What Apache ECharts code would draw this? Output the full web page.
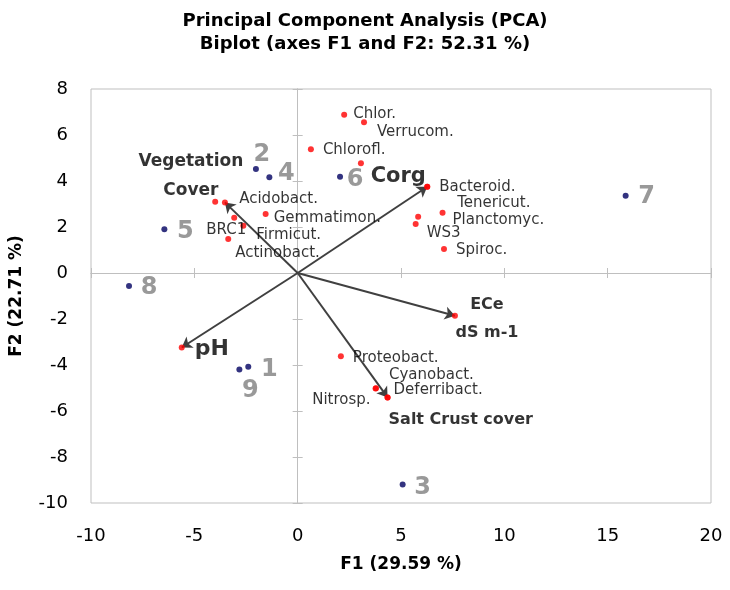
<!DOCTYPE html>
<html><head><meta charset="utf-8">
<script src="https://cdn.jsdelivr.net/npm/echarts@6/dist/echarts.min.js"></script>
<style>html,body{margin:0;padding:0;background:#fff}#c{width:730px;height:590px}</style>
</head><body><div id="c"></div>
<script>
// ---- data ----
const titleLines = ['Principal Component Analysis (PCA)', 'Biplot (axes F1 and F2: 52.31 %)'];
const xTitle = 'F1 (29.59 %)';
const yTitle = 'F2 (22.71 %)';
const xTicks = { min: -10, max: 20, step: 5 };
const yTicks = { min: -10, max: 8, step: 2 };

const obsNames = ['1', '2', '3', '4', '5', '6', '7', '8', '9'];
const obsF1 = [-2.39, -2.02, 5.08, -1.37, -6.45, 2.05, 15.87, -8.16, -2.82];
const obsF2 = [-4.08, 4.52, -9.20, 4.16, 1.90, 4.19, 3.36, -0.56, -4.20];

const taxaNames = ['Chlor.', 'Verrucom.', 'Chlorofl.', '', 'Bacteroid.', 'Tenericut.', 'Planctomyc.', 'WS3', 'Spiroc.',
  'Acidobact.', 'BRC1', 'Firmicut.', 'Actinobact.', 'Gemmatimon.', 'Proteobact.', 'Cyanobact.', 'Deferribact.', 'Nitrosp.'];
const taxaF1 = [2.25, 3.21, 0.64, 3.06, 6.27, 5.83, 7.01, 5.71, 7.08,
  -3.99, -3.07, -2.63, -3.36, -1.55, 2.09, 3.79, 4.35, 3.77];
const taxaF2 = [6.88, 6.55, 5.38, 4.77, 3.75, 2.45, 2.62, 2.13, 1.04,
  3.10, 2.40, 2.05, 1.48, 2.56, -3.62, -5.01, -5.41, -5.02];

const envNames = ['Vegetation\nCover', 'Corg', 'ECe\ndS m-1', 'Salt Crust cover', 'pH'];
const envF1 = [-3.52, 6.27, 7.61, 4.35, -5.61];
const envF2 = [3.07, 3.75, -1.86, -5.41, -3.24];

// ---- label placement (pixel offsets from the point, styles) ----
const obsLabelOffset = {
  '1': [21, 3], '2': [6, -14], '3': [20, 3], '4': [17, -4], '5': [21, 2],
  '6': [15, 3], '7': [21, 1], '8': [20, 2], '9': [11, 21]
};
const taxaLabelOffset = {
  'Chlor.': [9, -1], 'Verrucom.': [13, 10], 'Chlorofl.': [12, 1], 'Bacteroid.': [12, 0],
  'Tenericut.': [39, -14], 'Planctomyc.': [10, 7], 'WS3': [11, 9], 'Spiroc.': [12, 1],
  'Acidobact.': [24, -3], 'BRC1': [-28, 12], 'Firmicut.': [13, 9], 'Actinobact.': [7, 14],
  'Gemmatimon.': [8, 4], 'Proteobact.': [12, 2], 'Cyanobact.': [13, -13], 'Deferribact.': [6, -7],
  'Nitrosp.': [-5, 12]
};
const taxaAlignRight = { 'Nitrosp.': true };
const envLabelStyle = {
  'Vegetation\nCover': { off: [-34, -26], align: 'center', size: 17, lh: 29 },
  'Corg': { off: [-29, -10], align: 'center', size: 21, lh: 24 },
  'ECe\ndS m-1': { off: [32, 3], align: 'center', size: 16, lh: 28 },
  'Salt Crust cover': { off: [1, 22], align: 'left', size: 16, lh: 20 },
  'pH': { off: [13, 2], align: 'left', size: 22, lh: 24 }
};

const FONT = 'DejaVu Sans';
const SYM = 6;
function pos(off) { return [off[0] + SYM / 2, off[1] + SYM / 2]; }

const obsData = obsNames.map((n, i) => ({
  name: n, value: [obsF1[i], obsF2[i]],
  label: { position: pos(obsLabelOffset[n]), align: 'center', verticalAlign: 'middle' }
}));
const taxaData = taxaNames.map((n, i) => ({
  name: n, value: [taxaF1[i], taxaF2[i]],
  label: n ? { position: pos(taxaLabelOffset[n]), align: taxaAlignRight[n] ? 'right' : 'left', verticalAlign: 'middle' } : { show: false }
}));
const envData = envNames.map((n, i) => {
  const s = envLabelStyle[n];
  return {
    name: n, value: [envF1[i], envF2[i]],
    label: { position: pos(s.off), align: s.align, verticalAlign: 'middle', fontSize: s.size, lineHeight: s.lh }
  };
});
const arrowData = envNames.map((n, i) => ({ coords: [[0, 0], [envF1[i], envF2[i]]] }));

const AX = '#bfbfbf';
function baseAxis(t, extra) {
  return Object.assign({
    type: 'value', min: t.min, max: t.max, interval: t.step,
    splitLine: { show: false }
  }, extra);
}
const hiddenLabels = { show: false };

const option = {
  animation: false,
  textStyle: { fontFamily: FONT },
  title: {
    text: titleLines.join('\n'), left: 'center', top: 5,
    textStyle: { fontFamily: FONT, fontSize: 18, fontWeight: 'bold', color: '#000', lineHeight: 23 }
  },
  grid: { left: 91, top: 89, width: 620, height: 414, show: true, borderColor: AX, borderWidth: 1, backgroundColor: '#fff' },
  xAxis: [
    baseAxis(xTicks, {
      position: 'bottom', axisLine: { show: false, onZero: false }, axisTick: { show: false },
      axisLabel: { fontSize: 18, color: '#000', margin: 24, fontFamily: FONT },
      name: xTitle, nameLocation: 'middle', nameGap: 53,
      nameTextStyle: { fontSize: 17, fontWeight: 'bold', color: '#000', fontFamily: FONT }
    }),
    baseAxis(xTicks, {
      position: 'bottom', axisLine: { show: true, onZero: true, lineStyle: { color: AX, width: 1 } },
      axisTick: { show: true, inside: true, length: 5, lineStyle: { color: AX } }, axisLabel: hiddenLabels
    }),
    baseAxis(xTicks, {
      position: 'bottom', axisLine: { show: true, onZero: true, lineStyle: { color: AX, width: 1 } },
      axisTick: { show: true, inside: false, length: 5, lineStyle: { color: AX } }, axisLabel: hiddenLabels
    })
  ],
  yAxis: [
    baseAxis(yTicks, {
      position: 'left', axisLine: { show: false, onZero: false }, axisTick: { show: false },
      axisLabel: { fontSize: 18, color: '#000', margin: 23, fontFamily: FONT },
      name: yTitle, nameLocation: 'middle', nameGap: 66,
      nameTextStyle: { fontSize: 17, fontWeight: 'bold', color: '#000', fontFamily: FONT }
    }),
    baseAxis(yTicks, {
      position: 'left', axisLine: { show: true, onZero: true, lineStyle: { color: AX, width: 1 } },
      axisTick: { show: true, inside: true, length: 5, lineStyle: { color: AX } }, axisLabel: hiddenLabels
    }),
    baseAxis(yTicks, {
      position: 'left', axisLine: { show: true, onZero: true, lineStyle: { color: AX, width: 1 } },
      axisTick: { show: true, inside: false, length: 5, lineStyle: { color: AX } }, axisLabel: hiddenLabels
    })
  ],
  series: [
    {
      type: 'lines', coordinateSystem: 'cartesian2d', xAxisIndex: 0, yAxisIndex: 0, z: 3,
      symbol: ['none', 'arrow'], symbolSize: 10,
      lineStyle: { color: '#404040', width: 2, opacity: 1 },
      data: arrowData
    },
    {
      type: 'scatter', xAxisIndex: 0, yAxisIndex: 0, z: 4, symbol: 'circle', symbolSize: SYM,
      itemStyle: { color: '#ff0000' },
      label: { show: true, formatter: '{b}', fontFamily: FONT, fontSize: 15, color: '#000' },
      data: taxaData
    },
    {
      type: 'scatter', xAxisIndex: 0, yAxisIndex: 0, z: 5, symbol: 'circle', symbolSize: SYM,
      itemStyle: { color: '#ff0000' },
      label: { show: true, formatter: '{b}', fontFamily: FONT, fontWeight: 'bold', color: '#000' },
      data: envData
    },
    {
      type: 'scatter', xAxisIndex: 0, yAxisIndex: 0, z: 5, symbol: 'circle', symbolSize: SYM,
      itemStyle: { color: '#000060' },
      label: { show: true, formatter: '{b}', fontFamily: FONT, fontSize: 24, fontWeight: 'bold', color: '#808080' },
      data: obsData
    }
  ]
};
const chart = echarts.init(document.getElementById('c'), null, { renderer: 'canvas' });
chart.setOption(option);
</script></body></html>
